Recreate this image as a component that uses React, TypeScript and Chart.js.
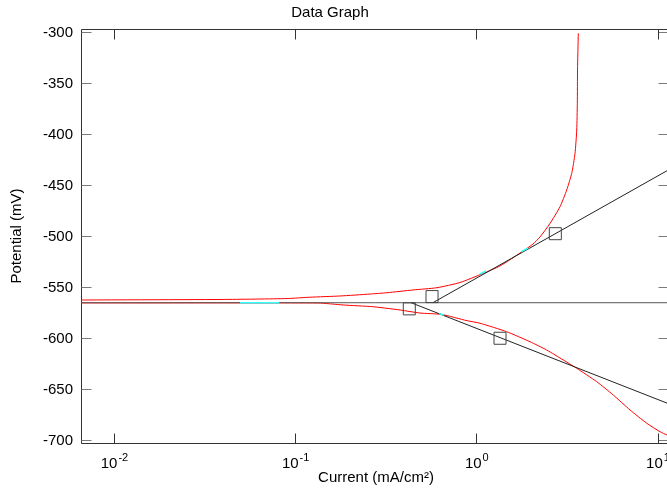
import React, { useEffect, useRef } from "react";
import { Chart, registerables } from "chart.js";

Chart.register(...registerables);

// ---- Data (current in mA/cm², potential in mV) ----
// Cathodic branch, from the scan start (high current, -700 mV) towards Ecorr
const cathodicCurrent = [15.0, 11.21, 10.26, 8.665, 7.008, 5.666, 4.589, 3.559, 3.002, 2.431, 1.966, 1.462, 1.042, 0.883, 0.6404, 0.4859, 0.3769, 0.3195, 0.2675, 0.1827, 0.1329, 0.0034];
const cathodicPotential = [-702.0, -694.1, -690.9, -682.6, -669.6, -655.0, -641.9, -628.8, -620.7, -610.9, -602.8, -593.0, -584.7, -582.2, -576.1, -574.7, -571.7, -570.1, -568.5, -566.8, -564.9, -564.6];
// Anodic branch, from Ecorr up to -300 mV
const anodicCurrent = [0.0034, 0.0398, 0.0898, 0.1202, 0.1759, 0.2575, 0.3194, 0.4446, 0.6026, 0.8075, 1.082, 1.343, 1.799, 2.042, 2.233, 2.535, 2.879, 3.134, 3.341, 3.484, 3.56, 3.587, 3.596, 3.632];
const anodicPotential = [-562.4, -561.4, -560.5, -559.2, -558.0, -556.1, -554.8, -552.1, -549.9, -544.8, -536.0, -528.6, -514.0, -507.1, -500.2, -487.0, -470.6, -454.2, -437.9, -418.3, -395.5, -369.3, -336.7, -300.8];

// Highlighted fit-region pieces (null = break)
const fitCurrent = [0.0493, 0.0813, null, 1.042, 1.124, null, 1.754, 1.918, null, 0.6184, 0.659];
const fitPotential = [-564.6, -564.6, null, -536.5, -533.5, null, -514.9, -511.0, null, -575.1, -576.6];

// Ecorr and Tafel lines
const ecorrPotential = -564.6;
const ecorrCurrent = [0.001, 20];
const anodicTafelCurrent = [0.572, 15];
const anodicTafelPotential = [-564.6, -422.7];
const cathodicTafelCurrent = [0.434, 15];
const cathodicTafelPotential = [-564.6, -671.7];

// Square cursors
const markerCurrent = [0.424, 0.566, 2.712, 1.343];
const markerPotential = [-570.6, -558.6, -497.0, -599.4];

// Axes
const xTickValues = [0.01, 0.1, 1, 10];
const xTickExponents = ["-2", "-1", "0", "1"];
const yTickValues = [-300, -350, -400, -450, -500, -550, -600, -650, -700];
const xMin = 0.006539;
const xMax = 11.355;
const yMin = -702.94;
const yMax = -296.57;

const titleText = "Data Graph";
const xTitle = "Current (mA/cm²)";
const yTitle = "Potential (mV)";

const FONT = "'Liberation Sans', Arial, sans-serif";

const pts = (xs: (number | null)[], ys: (number | null)[]) =>
  xs.map((x, i) => ({ x: x as number, y: ys[i] as number }));

const framePlugin = {
  id: "frameAndText",
  beforeDatasetsDraw(chart: any) {
    const { ctx, chartArea: a, scales } = chart;
    const x = scales.x;
    const y = scales.y;
    const L = Math.round(a.left) + 0.5;
    const T = Math.round(a.top) + 0.5;
    const B = Math.round(a.bottom) - 0.5;
    const R = Math.round(a.right) + 0.5;
    ctx.save();
    ctx.lineWidth = 1;
    // frame
    ctx.strokeStyle = "#333333";
    ctx.beginPath();
    ctx.moveTo(L, T);
    ctx.lineTo(R, T);
    ctx.moveTo(L, T);
    ctx.lineTo(L, B);
    ctx.lineTo(R, B);
    ctx.lineTo(R, T);
    ctx.stroke();
    // y ticks (inward, both sides)
    ctx.strokeStyle = "#7a7a7a";
    ctx.beginPath();
    yTickValues.forEach((v) => {
      const py = Math.floor(y.getPixelForValue(v)) + 0.5;
      ctx.moveTo(L, py);
      ctx.lineTo(L + 10, py);
      ctx.moveTo(R - 10, py);
      ctx.lineTo(R, py);
    });
    ctx.stroke();
    // x ticks (inward, top and bottom)
    ctx.strokeStyle = "#333333";
    ctx.beginPath();
    xTickValues.forEach((v) => {
      const px = Math.floor(x.getPixelForValue(v)) + 0.5;
      ctx.moveTo(px, T);
      ctx.lineTo(px, T + 10);
      ctx.moveTo(px, B);
      ctx.lineTo(px, B - 10);
    });
    ctx.stroke();
    ctx.restore();
  },
  afterDraw(chart: any) {
    const { ctx, chartArea: a, scales } = chart;
    const x = scales.x;
    const y = scales.y;
    ctx.save();
    ctx.fillStyle = "#000000";
    // y tick labels
    ctx.font = `15px ${FONT}`;
    ctx.textAlign = "right";
    ctx.textBaseline = "middle";
    yTickValues.forEach((v) => {
      ctx.fillText(String(v), a.left - 8, y.getPixelForValue(v));
    });
    // x tick labels with superscript exponents
    xTickValues.forEach((v, i) => {
      const px = x.getPixelForValue(v);
      ctx.font = `15px ${FONT}`;
      const wBase = ctx.measureText("10").width;
      ctx.font = `11px ${FONT}`;
      const wExp = ctx.measureText(xTickExponents[i]).width;
      const start = px - (wBase + wExp + 1) / 2;
      ctx.textAlign = "left";
      ctx.textBaseline = "alphabetic";
      ctx.font = `15px ${FONT}`;
      ctx.fillText("10", start, a.bottom + 24);
      ctx.font = `11px ${FONT}`;
      ctx.fillText(xTickExponents[i], start + wBase + 1, a.bottom + 17);
    });
    // titles
    ctx.font = `15px ${FONT}`;
    ctx.textAlign = "center";
    ctx.textBaseline = "middle";
    ctx.fillText(titleText, 330, 13);
    ctx.fillText(xTitle, 376, 478);
    ctx.save();
    ctx.translate(17, 236);
    ctx.rotate(-Math.PI / 2);
    ctx.fillText(yTitle, 0, 0);
    ctx.restore();
    ctx.restore();
  },
};

export default function App() {
  const ref = useRef<HTMLCanvasElement | null>(null);

  useEffect(() => {
    if (!ref.current) return;
    const redCurve = [
      ...pts(cathodicCurrent, cathodicPotential),
      ...pts(anodicCurrent, anodicPotential),
    ];
    const chart = new Chart(ref.current, {
      type: "scatter",
      data: {
        datasets: [
          {
            label: "markers",
            data: pts(markerCurrent, markerPotential),
            showLine: false,
            pointStyle: "rect",
            pointRadius: 8.5,
            pointBorderWidth: 1,
            pointBorderColor: "#444444",
            pointBackgroundColor: "rgba(0,0,0,0)",
            order: 0,
          },
          {
            label: "fit",
            data: pts(fitCurrent, fitPotential),
            showLine: true,
            spanGaps: false,
            borderColor: "#33ffff",
            borderWidth: 1.5,
            pointRadius: 0,
            order: 1,
          },
          {
            label: "Ecorr",
            data: ecorrCurrent.map((c) => ({ x: c, y: ecorrPotential })),
            showLine: true,
            borderColor: "#555555",
            borderWidth: 1,
            pointRadius: 0,
            order: 2,
          },
          {
            label: "anodic Tafel",
            data: pts(anodicTafelCurrent, anodicTafelPotential),
            showLine: true,
            borderColor: "#222222",
            borderWidth: 1,
            pointRadius: 0,
            order: 2,
          },
          {
            label: "cathodic Tafel",
            data: pts(cathodicTafelCurrent, cathodicTafelPotential),
            showLine: true,
            borderColor: "#222222",
            borderWidth: 1,
            pointRadius: 0,
            order: 2,
          },
          {
            label: "curve",
            data: redCurve,
            showLine: true,
            borderColor: "#ff0000",
            borderWidth: 1,
            pointRadius: 0,
            tension: 0.2,
            order: 3,
          },
        ],
      },
      options: {
        animation: false,
        responsive: false,
        maintainAspectRatio: false,
        events: [],
        layout: { padding: { left: 81, top: 29, right: 32, bottom: 44 } },
        plugins: {
          legend: { display: false },
          title: { display: false },
          tooltip: { enabled: false },
        },
        scales: {
          x: { type: "logarithmic", min: xMin, max: xMax, display: false },
          y: { type: "linear", min: yMin, max: yMax, display: false },
        },
      },
      plugins: [framePlugin],
    });
    return () => chart.destroy();
  }, []);

  return (
    <div
      style={{
        position: "fixed",
        left: 0,
        top: 0,
        width: 667,
        height: 488,
        overflow: "hidden",
        background: "#ffffff",
      }}
    >
      <canvas ref={ref} width={700} height={488} style={{ display: "block", width: 700, height: 488 }} />
    </div>
  );
}
